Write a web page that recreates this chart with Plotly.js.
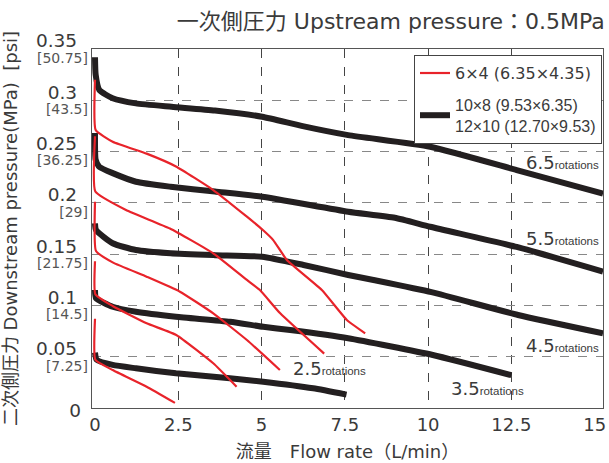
<!DOCTYPE html>
<html>
<head>
<meta charset="utf-8">
<script src="https://cdn.plot.ly/plotly-3.0.1.min.js"></script>
<style>html,body{margin:0;padding:0;background:#fff;}#chart{width:609px;height:463px;}</style>
</head>
<body>
<div id="chart"></div>
<script>
// ---- Data (flow rate L/min, downstream pressure MPa) ----
// Black: 10x8 / 12x10 tubes
const blackFlow65 = [0, 0.02, 0.13, 0.53, 1.23, 2.3, 3.6, 5.02, 6.2, 7.6, 10.06, 12.66, 15.25];
const blackPress65 = [0.342, 0.325, 0.31, 0.302, 0.297, 0.2937, 0.29, 0.284, 0.275, 0.266, 0.2547, 0.232, 0.209];
const blackFlow55 = [0, 0.02, 0.13, 0.53, 1.23, 2.27, 3.6, 5.02, 7.6, 9.0, 10.06, 12.66, 15.25];
const blackPress55 = [0.268, 0.242, 0.235, 0.229, 0.2206, 0.2157, 0.211, 0.206, 0.1914, 0.1855, 0.1767, 0.157, 0.133];
const blackFlow45 = [0, 0.03, 0.53, 1.23, 2.27, 3.6, 5.02, 6.26, 7.6, 8.36, 10.1, 12.7, 15.25];
const blackPress45 = [0.18, 0.1735, 0.1606, 0.154, 0.1508, 0.149, 0.1475, 0.1394, 0.1297, 0.1248, 0.113, 0.0907, 0.0728];
const blackFlow35 = [0, 0.03, 0.53, 1.23, 2.43, 4.05, 5.05, 5.86, 7.6, 10.14, 12.5];
const blackPress35 = [0.115, 0.107, 0.0987, 0.0939, 0.089, 0.0841, 0.0792, 0.076, 0.068, 0.0517, 0.032];
const blackFlow25 = [0, 0.05, 0.53, 1.23, 2.43, 4.05, 5.05, 6.55, 7.55];
const blackPress25 = [0.054, 0.047, 0.042, 0.0387, 0.0338, 0.029, 0.0256, 0.0192, 0.013];

// Red: 6x4 tube
const redFlow65 = [0, 0.02, 0.53, 1.55, 2.43, 3.55, 4.56, 5.04, 5.35, 5.76, 6.81, 7.56, 8.11];
const redPress65 = [0.32, 0.271, 0.2596, 0.248, 0.2355, 0.2125, 0.1865, 0.1735, 0.1637, 0.1443, 0.115, 0.0858, 0.0728];
const redFlow55 = [0, 0.01, 0.93, 2.25, 3.55, 4.56, 4.95, 5.56, 6.88];
const redPress55 = [0.265, 0.211, 0.193, 0.175, 0.1508, 0.1248, 0.115, 0.0923, 0.053];
const redFlow45 = [0, 0.03, 0.53, 1.55, 2.55, 3.55, 4.56, 5.55];
const redPress45 = [0.201, 0.153, 0.142, 0.128, 0.1134, 0.0923, 0.0663, 0.037];
const redFlow35 = [0, 0.01, 0.53, 1.55, 2.45, 3.55, 4.25];
const redPress35 = [0.143, 0.111, 0.0995, 0.0826, 0.071, 0.0436, 0.0208];
const redFlow25 = [0, 0.01, 0.53, 1.55, 2.4];
const redPress25 = [0.087, 0.047, 0.037, 0.0208, 0.005];

// Rotation labels
const rotationNames = ['6.5', '5.5', '4.5', '3.5', '2.5'];
const rotationFlow = [14.04, 14.04, 14.04, 11.79, 7.03];
const rotationPress = [0.2389, 0.1657, 0.0614, 0.0195, 0.039];

// Axis ticks
const xTicks = [0, 2.5, 5, 7.5, 10, 12.5, 15];
const xTickText = ['0', '2.5', '5', '7.5', '10', '12.5', '15'];
const yZeroTick = [0];
const yZeroText = ['0'];
const yTicks = [0.05, 0.1, 0.15, 0.2, 0.25, 0.3, 0.35];
const yMpaText = ['0.05', '0.1', '0.15', '0.2', '0.25', '0.3', '0.35'];
const yPsiText = ['[7.25]', '[14.5]', '[21.75]', '[29]', '[36.25]', '[43.5]', '[50.75]'];

const legendRed = '6×4 (6.35×4.35)';
const legendBlack = '<span style="font-size:16px;font-family:Liberation Sans, sans-serif">10×8 (9.53×6.35)<br>12×10 (12.70×9.53)</span>';

const BLACK = '#231f20';
const RED = '#e8232a';
const FONT = 'DejaVu Sans, Noto Sans CJK JP, sans-serif';
const NARROW = 'Liberation Sans Narrow, Liberation Sans, sans-serif';
const RANGE_X = [-0.09, 15.25];
const RANGE_Y = [0, 0.35];

const blackSets = [[blackFlow65, blackPress65], [blackFlow55, blackPress55], [blackFlow45, blackPress45], [blackFlow35, blackPress35], [blackFlow25, blackPress25]];
const redSets = [[redFlow65, redPress65], [redFlow55, redPress55], [redFlow45, redPress45], [redFlow35, redPress35], [redFlow25, redPress25]];

const traces = [];
blackSets.forEach((s, i) => traces.push({
  x: s[0], y: s[1], type: 'scatter', mode: 'lines',
  line: {color: BLACK, width: 6, shape: 'spline', smoothing: 0.5},
  name: legendBlack, legendgroup: 'black', showlegend: i === 0, legendrank: 2,
  hoverinfo: 'skip'
}));
redSets.forEach((s, i) => traces.push({
  x: s[0], y: s[1], type: 'scatter', mode: 'lines',
  line: {color: RED, width: 2.2, shape: 'spline', smoothing: 0.4},
  name: legendRed, legendgroup: 'red', showlegend: i === 0, legendrank: 1,
  hoverinfo: 'skip'
}));
// helper traces so the extra label axes are drawn
['y2', 'y3'].forEach(ax => traces.push({
  x: [null], y: [null], yaxis: ax, type: 'scatter', mode: 'lines', showlegend: false, hoverinfo: 'skip'
}));

const annotations = rotationNames.map((r, i) => ({
  x: rotationFlow[i], y: rotationPress[i], xref: 'x', yref: 'y',
  xanchor: 'center', yanchor: 'middle', showarrow: false,
  text: r + '<span style="font-size:11.5px;font-family:' + NARROW + '">rotations</span>',
  font: {family: FONT, size: 18, color: '#3a3a3a'}
}));

const layout = {
  width: 609, height: 463,
  margin: {l: 92, r: 6, t: 49, b: 55},
  paper_bgcolor: '#fff', plot_bgcolor: '#fff',
  font: {family: FONT, color: '#3a3a3a'},
  title: {
    text: '一次側圧力 Upstream pressure：0.5MPa',
    xref: 'container', yref: 'container', x: 0.993, y: 0.955,
    xanchor: 'right', yanchor: 'middle',
    font: {family: FONT, size: 22, color: '#3a3a3a'}
  },
  xaxis: {
    range: RANGE_X, tickmode: 'array', tickvals: xTicks, ticktext: xTickText,
    showgrid: false, zeroline: false, showline: true, mirror: true,
    linecolor: '#555', linewidth: 1.2, ticks: '', automargin: false,
    tickfont: {size: 18, color: '#3a3a3a'},
    minor: {tickmode: 'array', tickvals: [2.5, 5, 7.5, 10, 12.5], showgrid: true, gridcolor: '#444', gridwidth: 1, griddash: 'dash', ticks: ''},
    title: {text: '流量　Flow rate（L/min）', font: {size: 18, color: '#3a3a3a'}, standoff: 11}
  },
  yaxis: {
    range: RANGE_Y, tickmode: 'array', tickvals: yTicks, ticktext: yMpaText,
    showgrid: false, zeroline: false, showline: true, mirror: true,
    linecolor: '#555', linewidth: 1.2, ticks: '', automargin: false,
    ticklabelshift: -8, ticklabelstandoff: 10,
    tickfont: {size: 18.5, color: '#3a3a3a'},
    minor: {tickmode: 'array', tickvals: [0.05, 0.1, 0.15, 0.2, 0.25, 0.3], showgrid: true, gridcolor: '#888', gridwidth: 1, griddash: 'dash', ticks: ''},
    title: {text: '二次側圧力 Downstream pressure(MPa)  [psi]', font: {size: 18, color: '#3a3a3a'}, standoff: 19}
  },
  yaxis2: {
    range: RANGE_Y, overlaying: 'y', side: 'left', anchor: 'x',
    tickmode: 'array', tickvals: yTicks, ticktext: yPsiText,
    showgrid: false, zeroline: false, showline: false, ticks: '', automargin: false,
    ticklabelshift: 9, ticklabelstandoff: 3,
    tickfont: {size: 14, color: '#555'}
  },
  yaxis3: {
    range: RANGE_Y, overlaying: 'y', side: 'left', anchor: 'x',
    tickmode: 'array', tickvals: yZeroTick, ticktext: yZeroText,
    showgrid: false, zeroline: false, showline: false, ticks: '', automargin: false,
    ticklabelshift: 3, ticklabelstandoff: 10,
    tickfont: {size: 18.5, color: '#3a3a3a'}
  },
  legend: {
    x: 0.998, y: 0.983, xanchor: 'right', yanchor: 'top',
    bordercolor: '#444', borderwidth: 1, bgcolor: '#fff',
    font: {family: FONT, size: 16, color: '#3a3a3a'},
    itemwidth: 30, tracegroupgap: 8
  },
  annotations: annotations,
  showlegend: true
};

Plotly.newPlot('chart', traces, layout, {staticPlot: true, displayModeBar: false});
</script>
</body>
</html>
